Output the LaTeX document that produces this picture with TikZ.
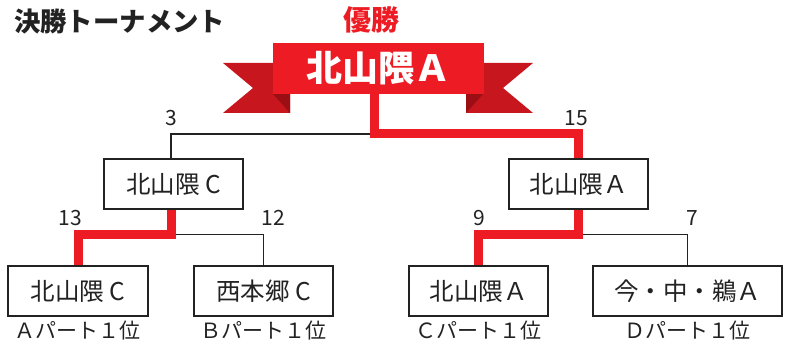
\documentclass[tikz,border=0pt]{standalone}
\usepackage{fontspec}
\setmainfont{Noto Sans CJK JP}
\usetikzlibrary{backgrounds}
\definecolor{winred}{HTML}{ED1C24}
\definecolor{tailred}{HTML}{C8161E}
\definecolor{folddark}{HTML}{9B0F14}
\definecolor{boxline}{HTML}{222222}
\begin{document}
\begin{tikzpicture}[x=1pt,y=-1pt,
  team/.style={draw=boxline,line width=1.5pt,fill=white,minimum height=50pt,inner sep=0pt,font=\fontsize{24.5}{28}\selectfont,text=boxline},
  score/.style={font=\fontsize{21}{24}\selectfont,text=boxline,inner sep=0pt},
  part/.style={font=\fontsize{21}{24}\selectfont,text=boxline,inner sep=0pt},
  lose/.style={draw=boxline,line width=1.5pt},
  win/.style={draw=winred,line width=9pt,line join=miter}]
\useasboundingbox (0,0) rectangle (788,344);
% title
\node[font=\bfseries\fontsize{26.4}{29}\selectfont,text=boxline,anchor=west,inner sep=0pt] (title) at (14,22) {決勝トーナメント};
\node[font=\bfseries\fontsize{28}{30}\selectfont,text=winred,inner sep=0pt] (yusho) at (371,20) {優勝};
% ribbon tails
\fill[tailred] (223,63) -- (290,63) -- (290,113) -- (223,113) -- (253,88) -- cycle;
\fill[folddark] (273,94) -- (290,94) -- (290,113) -- cycle;
\fill[tailred] (533,63) -- (466,63) -- (466,113) -- (533,113) -- (503,88) -- cycle;
\fill[folddark] (483,94) -- (466,94) -- (466,113) -- cycle;
% banner
\node[fill=winred,minimum width=211pt,minimum height=51pt,inner sep=0pt,text=white,font=\bfseries\fontsize{36}{40}\selectfont] (bn) at (378.5,68.5) {北山隈Ａ};
% teams
\node[team,minimum width=139pt] (mL) at (173.5,184) {北山隈 C};
\node[team,minimum width=139pt] (mR) at (578.5,184) {北山隈Ａ};
\node[team,minimum width=140pt] (b1) at (78,291) {北山隈 C};
\node[team,minimum width=139pt] (b2) at (263.5,291) {西本郷 C};
\node[team,minimum width=139pt] (b3) at (478.5,291) {北山隈Ａ};
\node[team,minimum width=189pt] (b4) at (687.5,291) {今・中・鵜Ａ};
% connectors (behind the boxes and banner)
\coordinate (top) at (374,134);
\coordinate (jL) at (171,234.5);
\coordinate (jR) at (578.5,234.5);
\begin{scope}[on background layer]
\draw[lose] ([xshift=-2.5pt]mL.north) |- (top);
\draw[lose] (jL) -| (b2.north);
\draw[lose] (jR) -| (b4.north);
\draw[win] ([xshift=-2.5pt]mL.south) -- (jL) -| (b1.north);
\draw[win] (mR.south) -- (jR) -| (b3.north);
\draw[win] ([xshift=-4.5pt]bn.south) -- (top) -| (mR.north);
\end{scope}
% scores
\node[score] (s3) at (171,118) {3};
\node[score] (s15) at (576,118) {15};
\node[score] (s13) at (70,218) {13};
\node[score] (s12) at (273,218) {12};
\node[score] (s9) at (479,218) {9};
\node[score] (s7) at (692,218) {7};
% part labels
\node[part] (p1) at (78,331) {Ａパート１位};
\node[part] (p2) at (263.5,331) {Ｂパート１位};
\node[part] (p3) at (478.5,331) {Ｃパート１位};
\node[part] (p4) at (687.5,331) {Ｄパート１位};
\end{tikzpicture}
\end{document}
